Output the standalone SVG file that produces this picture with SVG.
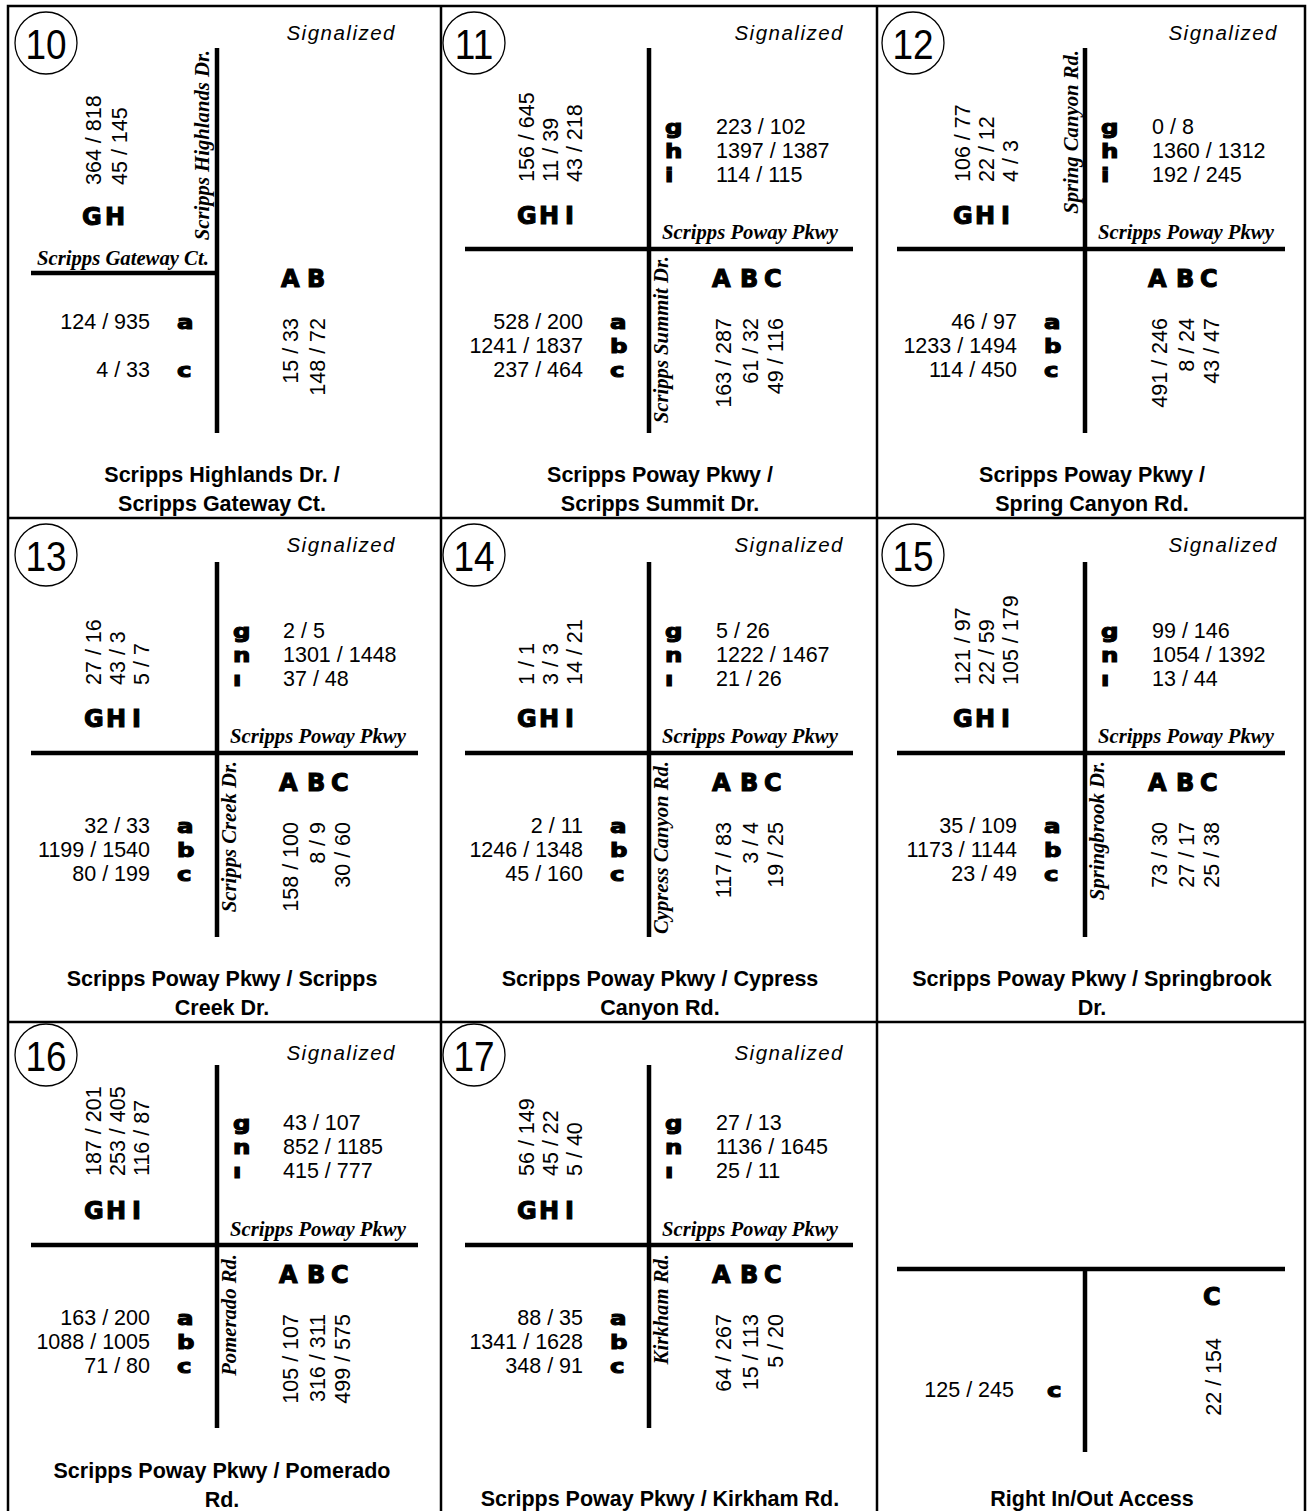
<svg xmlns="http://www.w3.org/2000/svg" width="1307" height="1511" viewBox="0 0 1307 1511">
<style>
.bg{fill:#fff}
.fr{stroke:#000;stroke-width:2.5;fill:none}
.rd{stroke:#000;stroke-width:4.5;fill:none}
.ci{fill:none;stroke:#000;stroke-width:1.3}
.cn{font-family:"Liberation Sans",Arial,sans-serif;font-size:43px;text-anchor:middle}
.sg{font-family:"Liberation Sans",Arial,sans-serif;font-style:italic;font-size:20.5px;letter-spacing:1.5px;text-anchor:end}
.n{font-family:"Liberation Sans",Arial,sans-serif;font-size:21.5px}
.e{text-anchor:end}
.L{font-family:"DejaVu Sans",sans-serif;font-weight:bold;font-size:24px;stroke:#000;stroke-width:1.1}
.l{font-family:"DejaVu Sans",sans-serif;font-weight:bold;font-size:20px;stroke:#000;stroke-width:1.1}
.r{font-family:"Liberation Serif","Times New Roman",serif;font-weight:bold;font-style:italic;font-size:20.7px}
.t{font-family:"Liberation Sans",Arial,sans-serif;font-weight:bold;font-size:21.5px;text-anchor:middle}
</style>
<rect class="bg" x="0" y="0" width="1307" height="1511"/>
<g id="frame">
<path class="fr" d="M8,1511 V6 H1305 V1511 M441,6 V1511 M877,6 V1511 M8,518 H1305 M8,1022 H1305"/>
</g>
<g id="connectors">
<path class="rd" d="M217,48 V433 M31,273 H217"/>
<path class="rd" d="M649,48 V433 M465,249 H853"/>
<path class="rd" d="M1085,48 V433 M897,249 H1285"/>
<path class="rd" d="M217,562 V937 M31,753 H418"/>
<path class="rd" d="M649,562 V937 M465,753 H853"/>
<path class="rd" d="M1085,562 V937 M897,753 H1285"/>
<path class="rd" d="M217,1065 V1428 M31,1245 H418"/>
<path class="rd" d="M649,1065 V1428 M465,1245 H853"/>
<path class="rd" d="M1085,1269 V1452 M897,1269 H1285"/>
</g>
<g id="p10">
<circle class="ci" cx="46" cy="43" r="31"/><text class="cn" transform="translate(46,59) scale(0.86,1)">10</text>
<text class="sg" x="396" y="40">Signalized</text>
<text class="r e" transform="translate(209,50) rotate(-90)">Scripps Highlands Dr.</text>
<text class="r" x="37" y="265">Scripps Gateway Ct.</text>
<text class="n" transform="translate(101,185) rotate(-90)">364 / 818</text>
<text class="n" transform="translate(127,185) rotate(-90)">45 / 145</text>
<text class="L" x="82 105" y="225">GH</text>
<text class="n e" x="150" y="329">124 / 935</text><text class="l" transform="translate(177,329) scale(1.22,1)">a</text>
<text class="n e" x="150" y="377">4 / 33</text><text class="l" transform="translate(177,377) scale(1.22,1)">c</text>
<text class="L" x="281 307" y="287">AB</text>
<text class="n e" transform="translate(298,318) rotate(-90)">15 / 33</text>
<text class="n e" transform="translate(325,318) rotate(-90)">148 / 72</text>
<text class="t" x="222" y="482">Scripps Highlands Dr. /</text>
<text class="t" x="222" y="511">Scripps Gateway Ct.</text>
</g>
<g id="p11">
<circle class="ci" cx="474" cy="43" r="31"/><text class="cn" transform="translate(474,59) scale(0.86,1)">11</text>
<text class="sg" x="844" y="40">Signalized</text>
<text class="r" x="662" y="239">Scripps Poway Pkwy</text>
<text class="r e" transform="translate(668,256) rotate(-90)">Scripps Summit Dr.</text>
<text class="n" transform="translate(534,182) rotate(-90)">156 / 645</text>
<text class="n" transform="translate(558,182) rotate(-90)">11 / 39</text>
<text class="n" transform="translate(582,182) rotate(-90)">43 / 218</text>
<text class="L" x="517 539 565" y="224">GHI</text>
<text class="l" transform="translate(665,134) scale(1.22,1)">g</text><text class="n" x="716" y="134">223 / 102</text>
<text class="l" transform="translate(665,158) scale(1.22,1)">h</text><text class="n" x="716" y="158">1397 / 1387</text>
<text class="l" transform="translate(665,182) scale(1.22,1)">i</text><text class="n" x="716" y="182">114 / 115</text>
<text class="n e" x="583" y="329">528 / 200</text><text class="l" transform="translate(610,329) scale(1.22,1)">a</text>
<text class="n e" x="583" y="353">1241 / 1837</text><text class="l" transform="translate(610,353) scale(1.22,1)">b</text>
<text class="n e" x="583" y="377">237 / 464</text><text class="l" transform="translate(610,377) scale(1.22,1)">c</text>
<text class="L" x="712 740 764" y="287">ABC</text>
<text class="n e" transform="translate(731,318) rotate(-90)">163 / 287</text>
<text class="n e" transform="translate(758,318) rotate(-90)">61 / 32</text>
<text class="n e" transform="translate(783,318) rotate(-90)">49 / 116</text>
<text class="t" x="660" y="482">Scripps Poway Pkwy /</text>
<text class="t" x="660" y="511">Scripps Summit Dr.</text>
</g>
<g id="p12">
<circle class="ci" cx="913" cy="43" r="31"/><text class="cn" transform="translate(913,59) scale(0.86,1)">12</text>
<text class="sg" x="1278" y="40">Signalized</text>
<text class="r" x="1098" y="239">Scripps Poway Pkwy</text>
<text class="r e" transform="translate(1078,50) rotate(-90)">Spring Canyon Rd.</text>
<text class="n" transform="translate(970,182) rotate(-90)">106 / 77</text>
<text class="n" transform="translate(994,182) rotate(-90)">22 / 12</text>
<text class="n" transform="translate(1018,182) rotate(-90)">4 / 3</text>
<text class="L" x="953 975 1001" y="224">GHI</text>
<text class="l" transform="translate(1101,134) scale(1.22,1)">g</text><text class="n" x="1152" y="134">0 / 8</text>
<text class="l" transform="translate(1101,158) scale(1.22,1)">h</text><text class="n" x="1152" y="158">1360 / 1312</text>
<text class="l" transform="translate(1101,182) scale(1.22,1)">i</text><text class="n" x="1152" y="182">192 / 245</text>
<text class="n e" x="1017" y="329">46 / 97</text><text class="l" transform="translate(1044,329) scale(1.22,1)">a</text>
<text class="n e" x="1017" y="353">1233 / 1494</text><text class="l" transform="translate(1044,353) scale(1.22,1)">b</text>
<text class="n e" x="1017" y="377">114 / 450</text><text class="l" transform="translate(1044,377) scale(1.22,1)">c</text>
<text class="L" x="1148 1176 1200" y="287">ABC</text>
<text class="n e" transform="translate(1167,318) rotate(-90)">491 / 246</text>
<text class="n e" transform="translate(1194,318) rotate(-90)">8 / 24</text>
<text class="n e" transform="translate(1219,318) rotate(-90)">43 / 47</text>
<text class="t" x="1092" y="482">Scripps Poway Pkwy /</text>
<text class="t" x="1092" y="511">Spring Canyon Rd.</text>
</g>
<g id="p13">
<circle class="ci" cx="46" cy="555" r="31"/><text class="cn" transform="translate(46,571) scale(0.86,1)">13</text>
<text class="sg" x="396" y="552">Signalized</text>
<text class="r" x="230" y="743">Scripps Poway Pkwy</text>
<text class="r e" transform="translate(236,761) rotate(-90)">Scripps Creek Dr.</text>
<text class="n" transform="translate(101,685) rotate(-90)">27 / 16</text>
<text class="n" transform="translate(125,685) rotate(-90)">43 / 3</text>
<text class="n" transform="translate(149,685) rotate(-90)">5 / 7</text>
<text class="L" x="84 106 132" y="727">GHI</text>
<text class="l" transform="translate(233,638) scale(1.22,1)">g</text><text class="n" x="283" y="638">2 / 5</text>
<text class="l" transform="translate(233,662) scale(1.22,1)">n</text><text class="n" x="283" y="662">1301 / 1448</text>
<text class="l" transform="translate(233,686) scale(1.22,1)">ı</text><text class="n" x="283" y="686">37 / 48</text>
<text class="n e" x="150" y="833">32 / 33</text><text class="l" transform="translate(177,833) scale(1.22,1)">a</text>
<text class="n e" x="150" y="857">1199 / 1540</text><text class="l" transform="translate(177,857) scale(1.22,1)">b</text>
<text class="n e" x="150" y="881">80 / 199</text><text class="l" transform="translate(177,881) scale(1.22,1)">c</text>
<text class="L" x="279 307 331" y="791">ABC</text>
<text class="n e" transform="translate(298,822) rotate(-90)">158 / 100</text>
<text class="n e" transform="translate(325,822) rotate(-90)">8 / 9</text>
<text class="n e" transform="translate(350,822) rotate(-90)">30 / 60</text>
<text class="t" x="222" y="986">Scripps Poway Pkwy / Scripps</text>
<text class="t" x="222" y="1015">Creek Dr.</text>
</g>
<g id="p14">
<circle class="ci" cx="474" cy="555" r="31"/><text class="cn" transform="translate(474,571) scale(0.86,1)">14</text>
<text class="sg" x="844" y="552">Signalized</text>
<text class="r" x="662" y="743">Scripps Poway Pkwy</text>
<text class="r e" transform="translate(668,761) rotate(-90)">Cypress Canyon Rd.</text>
<text class="n" transform="translate(534,685) rotate(-90)">1 / 1</text>
<text class="n" transform="translate(558,685) rotate(-90)">3 / 3</text>
<text class="n" transform="translate(582,685) rotate(-90)">14 / 21</text>
<text class="L" x="517 539 565" y="727">GHI</text>
<text class="l" transform="translate(665,638) scale(1.22,1)">g</text><text class="n" x="716" y="638">5 / 26</text>
<text class="l" transform="translate(665,662) scale(1.22,1)">n</text><text class="n" x="716" y="662">1222 / 1467</text>
<text class="l" transform="translate(665,686) scale(1.22,1)">ı</text><text class="n" x="716" y="686">21 / 26</text>
<text class="n e" x="583" y="833">2 / 11</text><text class="l" transform="translate(610,833) scale(1.22,1)">a</text>
<text class="n e" x="583" y="857">1246 / 1348</text><text class="l" transform="translate(610,857) scale(1.22,1)">b</text>
<text class="n e" x="583" y="881">45 / 160</text><text class="l" transform="translate(610,881) scale(1.22,1)">c</text>
<text class="L" x="712 740 764" y="791">ABC</text>
<text class="n e" transform="translate(731,822) rotate(-90)">117 / 83</text>
<text class="n e" transform="translate(758,822) rotate(-90)">3 / 4</text>
<text class="n e" transform="translate(783,822) rotate(-90)">19 / 25</text>
<text class="t" x="660" y="986">Scripps Poway Pkwy / Cypress</text>
<text class="t" x="660" y="1015">Canyon Rd.</text>
</g>
<g id="p15">
<circle class="ci" cx="913" cy="555" r="31"/><text class="cn" transform="translate(913,571) scale(0.86,1)">15</text>
<text class="sg" x="1278" y="552">Signalized</text>
<text class="r" x="1098" y="743">Scripps Poway Pkwy</text>
<text class="r e" transform="translate(1104,761) rotate(-90)">Springbrook Dr.</text>
<text class="n" transform="translate(970,685) rotate(-90)">121 / 97</text>
<text class="n" transform="translate(994,685) rotate(-90)">22 / 59</text>
<text class="n" transform="translate(1018,685) rotate(-90)">105 / 179</text>
<text class="L" x="953 975 1001" y="727">GHI</text>
<text class="l" transform="translate(1101,638) scale(1.22,1)">g</text><text class="n" x="1152" y="638">99 / 146</text>
<text class="l" transform="translate(1101,662) scale(1.22,1)">n</text><text class="n" x="1152" y="662">1054 / 1392</text>
<text class="l" transform="translate(1101,686) scale(1.22,1)">ı</text><text class="n" x="1152" y="686">13 / 44</text>
<text class="n e" x="1017" y="833">35 / 109</text><text class="l" transform="translate(1044,833) scale(1.22,1)">a</text>
<text class="n e" x="1017" y="857">1173 / 1144</text><text class="l" transform="translate(1044,857) scale(1.22,1)">b</text>
<text class="n e" x="1017" y="881">23 / 49</text><text class="l" transform="translate(1044,881) scale(1.22,1)">c</text>
<text class="L" x="1148 1176 1200" y="791">ABC</text>
<text class="n e" transform="translate(1167,822) rotate(-90)">73 / 30</text>
<text class="n e" transform="translate(1194,822) rotate(-90)">27 / 17</text>
<text class="n e" transform="translate(1219,822) rotate(-90)">25 / 38</text>
<text class="t" x="1092" y="986">Scripps Poway Pkwy / Springbrook</text>
<text class="t" x="1092" y="1015">Dr.</text>
</g>
<g id="p16">
<circle class="ci" cx="46" cy="1055" r="31"/><text class="cn" transform="translate(46,1071) scale(0.86,1)">16</text>
<text class="sg" x="396" y="1060">Signalized</text>
<text class="r" x="230" y="1236">Scripps Poway Pkwy</text>
<text class="r e" transform="translate(236,1254) rotate(-90)">Pomerado Rd.</text>
<text class="n" transform="translate(101,1176) rotate(-90)">187 / 201</text>
<text class="n" transform="translate(125,1176) rotate(-90)">253 / 405</text>
<text class="n" transform="translate(149,1176) rotate(-90)">116 / 87</text>
<text class="L" x="84 106 132" y="1219">GHI</text>
<text class="l" transform="translate(233,1130) scale(1.22,1)">g</text><text class="n" x="283" y="1130">43 / 107</text>
<text class="l" transform="translate(233,1154) scale(1.22,1)">n</text><text class="n" x="283" y="1154">852 / 1185</text>
<text class="l" transform="translate(233,1178) scale(1.22,1)">ı</text><text class="n" x="283" y="1178">415 / 777</text>
<text class="n e" x="150" y="1325">163 / 200</text><text class="l" transform="translate(177,1325) scale(1.22,1)">a</text>
<text class="n e" x="150" y="1349">1088 / 1005</text><text class="l" transform="translate(177,1349) scale(1.22,1)">b</text>
<text class="n e" x="150" y="1373">71 / 80</text><text class="l" transform="translate(177,1373) scale(1.22,1)">c</text>
<text class="L" x="279 307 331" y="1283">ABC</text>
<text class="n e" transform="translate(298,1314) rotate(-90)">105 / 107</text>
<text class="n e" transform="translate(325,1314) rotate(-90)">316 / 311</text>
<text class="n e" transform="translate(350,1314) rotate(-90)">499 / 575</text>
<text class="t" x="222" y="1478">Scripps Poway Pkwy / Pomerado</text>
<text class="t" x="222" y="1507">Rd.</text>
</g>
<g id="p17">
<circle class="ci" cx="474" cy="1055" r="31"/><text class="cn" transform="translate(474,1071) scale(0.86,1)">17</text>
<text class="sg" x="844" y="1060">Signalized</text>
<text class="r" x="662" y="1236">Scripps Poway Pkwy</text>
<text class="r e" transform="translate(668,1254) rotate(-90)">Kirkham Rd.</text>
<text class="n" transform="translate(534,1176) rotate(-90)">56 / 149</text>
<text class="n" transform="translate(558,1176) rotate(-90)">45 / 22</text>
<text class="n" transform="translate(582,1176) rotate(-90)">5 / 40</text>
<text class="L" x="517 539 565" y="1219">GHI</text>
<text class="l" transform="translate(665,1130) scale(1.22,1)">g</text><text class="n" x="716" y="1130">27 / 13</text>
<text class="l" transform="translate(665,1154) scale(1.22,1)">n</text><text class="n" x="716" y="1154">1136 / 1645</text>
<text class="l" transform="translate(665,1178) scale(1.22,1)">ı</text><text class="n" x="716" y="1178">25 / 11</text>
<text class="n e" x="583" y="1325">88 / 35</text><text class="l" transform="translate(610,1325) scale(1.22,1)">a</text>
<text class="n e" x="583" y="1349">1341 / 1628</text><text class="l" transform="translate(610,1349) scale(1.22,1)">b</text>
<text class="n e" x="583" y="1373">348 / 91</text><text class="l" transform="translate(610,1373) scale(1.22,1)">c</text>
<text class="L" x="712 740 764" y="1283">ABC</text>
<text class="n e" transform="translate(731,1314) rotate(-90)">64 / 267</text>
<text class="n e" transform="translate(758,1314) rotate(-90)">15 / 113</text>
<text class="n e" transform="translate(783,1314) rotate(-90)">5 / 20</text>
<text class="t" x="660" y="1506">Scripps Poway Pkwy / Kirkham Rd.</text>
</g>
<g id="p18">
<text class="L" x="1203" y="1305">C</text>
<text class="n e" transform="translate(1221,1338) rotate(-90)">22 / 154</text>
<text class="n e" x="1014" y="1397">125 / 245</text><text class="l" transform="translate(1047,1397) scale(1.22,1)">c</text>
<text class="t" x="1092" y="1506">Right In/Out Access</text>
</g>
</svg>
